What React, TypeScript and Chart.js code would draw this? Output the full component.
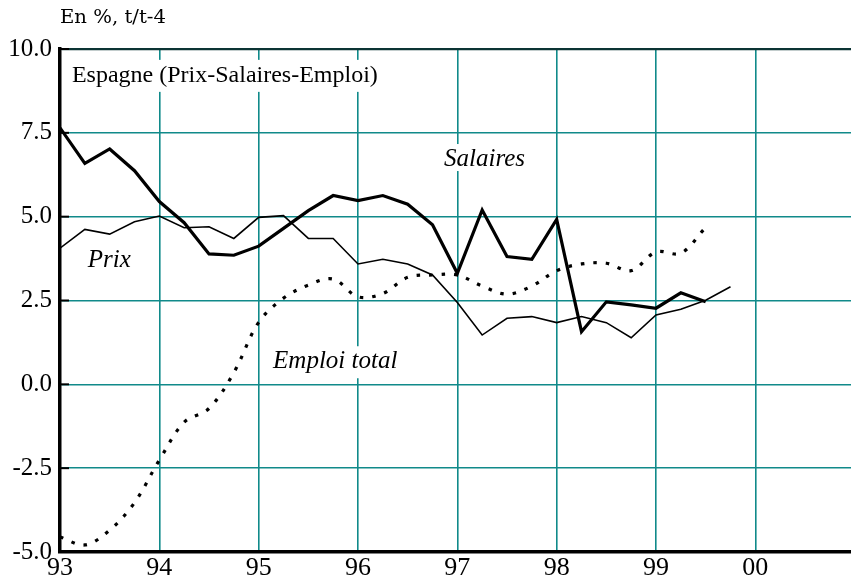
import React, { useEffect, useRef } from "react";
import { Chart, registerables } from "chart.js";

Chart.register(...registerables);

// ---- data ----
const quarters = [
  93, 93.25, 93.5, 93.75,
  94, 94.25, 94.5, 94.75,
  95, 95.25, 95.5, 95.75,
  96, 96.25, 96.5, 96.75,
  97, 97.25, 97.5, 97.75,
  98, 98.25, 98.5, 98.75,
  99, 99.25, 99.5, 99.75,
];

const salaires = [
  7.65, 6.59, 7.02, 6.37,
  5.45, 4.82, 3.89, 3.85,
  4.12, 4.65, 5.18, 5.63,
  5.48, 5.63, 5.37, 4.76,
  3.31, 5.2, 3.81, 3.73,
  4.92, 1.57, 2.46, 2.37,
  2.27, 2.73, 2.46,
];

const prix = [
  4.06, 4.62, 4.48, 4.85,
  5.02, 4.67, 4.7, 4.35,
  4.98, 5.03, 4.35, 4.35,
  3.59, 3.73, 3.59, 3.26,
  2.44, 1.47, 1.97, 2.02,
  1.84, 2.02, 1.84, 1.39,
  2.07, 2.24, 2.51, 2.91,
];

const emploi = [
  -4.55, -4.79, -4.35, -3.53,
  -2.26, -1.13, -0.72, 0.35,
  1.85, 2.57, 2.96, 3.14,
  2.61, 2.71, 3.19, 3.26,
  3.26, 2.93, 2.69, 2.93,
  3.39, 3.59, 3.61, 3.39,
  3.95, 3.91, 4.68,
];

const yearTicks = [93, 94, 95, 96, 97, 98, 99, 100];
const valueTicks = [-5, -2.5, 0, 2.5, 5, 7.5, 10];

const unitText = "En %, t/t-4";
const titleText = "Espagne (Prix-Salaires-Emploi)";
const seriesNames = ["Salaires", "Prix", "Emploi total"];

const SERIF = '"Liberation Serif", "Times New Roman", serif';
const TEAL = "#108a8a";

// in-chart labels, anchored in data coordinates
const inChartLabels = [
  { text: titleText, x: 93.12, y: 9.02, font: `24px ${SERIF}` },
  { text: seriesNames[0], x: 96.866, y: 6.51, font: `italic 25px ${SERIF}` },
  { text: seriesNames[1], x: 93.28, y: 3.5, font: `italic 25px ${SERIF}` },
  { text: seriesNames[2], x: 95.145, y: 0.48, font: `italic 25px ${SERIF}` },
];

const toPoints = (vals: number[]) => vals.map((v, i) => ({ x: quarters[i], y: v }));

const overlayPlugin = {
  id: "overlay",
  beforeDatasetsDraw(chart: any) {
    const { ctx, chartArea } = chart;
    const xs = chart.scales.x;
    const ys = chart.scales.y;
    ctx.save();
    // inward tick marks on the value axis
    ctx.strokeStyle = "#000";
    ctx.lineWidth = 2;
    valueTicks.forEach((v) => {
      const py = ys.getPixelForValue(v);
      ctx.beginPath();
      ctx.moveTo(chartArea.left, py);
      ctx.lineTo(chartArea.left + 9, py);
      ctx.stroke();
    });
    // labels with white backgrounds
    ctx.textBaseline = "alphabetic";
    ctx.textAlign = "left";
    inChartLabels.forEach((l) => {
      ctx.font = l.font;
      const m = ctx.measureText(l.text);
      const px = xs.getPixelForValue(l.x);
      const py = ys.getPixelForValue(l.y);
      const asc = m.actualBoundingBoxAscent;
      const desc = m.actualBoundingBoxDescent;
      ctx.fillStyle = "#fff";
      ctx.fillRect(px - 4, py - asc - 5, m.width + 8, asc + desc + 10);
      ctx.fillStyle = "#000";
      ctx.fillText(l.text, px, py);
    });
    ctx.restore();
  },
  afterDraw(chart: any) {
    const { ctx, chartArea } = chart;
    ctx.save();
    ctx.font = `18px "DejaVu Serif", serif`;
    ctx.fillStyle = "#000";
    ctx.textBaseline = "alphabetic";
    ctx.textAlign = "left";
    const w = ctx.measureText(unitText).width;
    ctx.translate(chartArea.left, 23);
    ctx.scale(106 / w, 1);
    ctx.fillText(unitText, 0, 0);
    ctx.restore();
  },
};

export default function App() {
  const canvasRef = useRef<HTMLCanvasElement | null>(null);

  useEffect(() => {
    document.body.style.margin = "0";
    const canvas = canvasRef.current;
    if (!canvas) return;
    const chart = new Chart(canvas, {
      type: "line",
      data: {
        datasets: [
          {
            label: seriesNames[2],
            data: toPoints(emploi),
            borderColor: "#000",
            borderWidth: 3.2,
            borderDash: [3.5, 9],
            pointRadius: 0,
            tension: 0.35,
            fill: false,
          },
          {
            label: seriesNames[1],
            data: toPoints(prix),
            borderColor: "#000",
            borderWidth: 1.6,
            pointRadius: 0,
            tension: 0,
            fill: false,
          },
          {
            label: seriesNames[0],
            data: toPoints(salaires),
            borderColor: "#000",
            borderWidth: 3.2,
            pointRadius: 0,
            tension: 0,
            fill: false,
          },
        ],
      },
      options: {
        responsive: false,
        animation: false,
        devicePixelRatio: 1,
        layout: { padding: { top: 49, left: 0, right: 0, bottom: 0 } },
        plugins: {
          legend: { display: false },
          tooltip: { enabled: false },
          title: { display: false },
        },
        scales: {
          x: {
            type: "linear",
            min: 93,
            max: 100.963,
            afterBuildTicks: (scale: any) => {
              scale.ticks = yearTicks.map((v) => ({ value: v }));
            },
            afterFit: (scale: any) => {
              scale.height = 35;
            },
            grid: {
              color: TEAL,
              lineWidth: 1.6,
              drawTicks: false,
            },
            border: { display: true, color: "#000", width: 3.5 },
            ticks: {
              color: "#000",
              font: { family: SERIF, size: 26 },
              padding: 1,
              maxRotation: 0,
              autoSkip: false,
              callback: (v: any) => String(Number(v) % 100).padStart(2, "0"),
            },
          },
          y: {
            type: "linear",
            min: -5,
            max: 10,
            afterBuildTicks: (scale: any) => {
              scale.ticks = valueTicks.map((v) => ({ value: v }));
            },
            afterFit: (scale: any) => {
              scale.width = 60;
            },
            grid: {
              color: (c: any) => (c.tick && c.tick.value === 10 ? "#0c3434" : TEAL),
              lineWidth: (c: any) => (c.tick && c.tick.value === 10 ? 2.2 : 1.6),
              drawTicks: false,
            },
            border: { display: true, color: "#000", width: 3.5 },
            ticks: {
              color: "#000",
              font: { family: SERIF, size: 25 },
              padding: 8,
              autoSkip: false,
              callback: (v: any) => Number(v).toFixed(1),
            },
          },
        },
      },
      plugins: [overlayPlugin],
    } as any);
    return () => chart.destroy();
  }, []);

  return (
    <div style={{ position: "fixed", left: 0, top: 0, width: 851, height: 587, background: "#fff" }}>
      <canvas ref={canvasRef} width={851} height={587} style={{ display: "block" }} />
    </div>
  );
}
